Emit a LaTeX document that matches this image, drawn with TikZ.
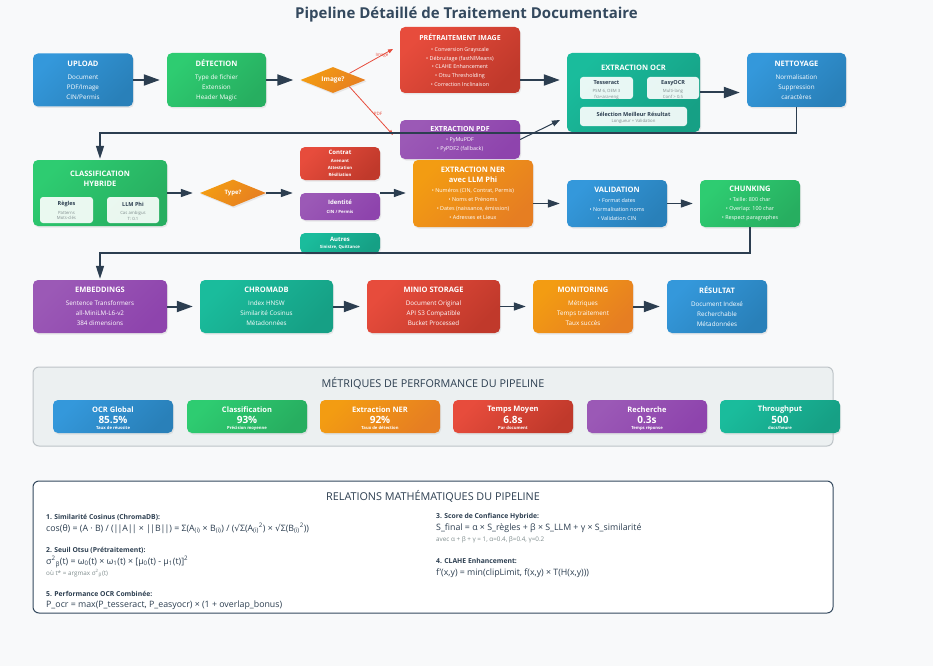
\documentclass[tikz,border=0pt]{standalone}
\usepackage{fontspec}
\setmainfont{Open Sans}
\newfontfamily\symfont{DejaVu Sans}
\usetikzlibrary{arrows.meta,shapes.geometric,shadows}
\definecolor{bg}{HTML}{F8F9FA}
\definecolor{blueA}{HTML}{3498DB}\definecolor{blueB}{HTML}{2980B9}
\definecolor{greenA}{HTML}{2ECC71}\definecolor{greenB}{HTML}{27AE60}
\definecolor{orangeA}{HTML}{F39C12}\definecolor{orangeB}{HTML}{E67E22}
\definecolor{redA}{HTML}{E74C3C}\definecolor{redB}{HTML}{C0392B}
\definecolor{purpleA}{HTML}{9B59B6}\definecolor{purpleB}{HTML}{8E44AD}
\definecolor{tealA}{HTML}{1ABC9C}\definecolor{tealB}{HTML}{16A085}
\definecolor{dark}{HTML}{2C3E50}
\definecolor{darkB}{HTML}{34495E}
\definecolor{grayT}{HTML}{7F8C8D}
\definecolor{panel}{HTML}{ECF0F1}
\definecolor{panelB}{HTML}{BDC3C7}
\newcommand{\tb}[2]{{\fontsize{#1}{#1}\selectfont\bfseries #2}}
\newcommand{\sq}{{\symfont √}}
\newcommand{\bb}{|\kern-1pt|}
\tikzset{
  box/.style={rectangle, rounded corners=5pt, inner sep=0pt, text=white, align=center,
    font=\fontsize{6.3}{10}\selectfont,
    drop shadow={opacity=0.15, shadow xshift=1pt, shadow yshift=-1.5pt}},
  bx/.style={box, left color=#1A, right color=#1B, shading angle=45},
  dia/.style={diamond, aspect=2.5, inner sep=0pt, left color=orangeA, right color=orangeB,
    shading angle=45, text=white, font=\fontsize{6.5}{8}\selectfont\bfseries,
    drop shadow={opacity=0.15, shadow xshift=1pt, shadow yshift=-1.5pt}},
  inbox/.style={rectangle, rounded corners=3pt, fill=white, fill opacity=0.9, inner sep=0pt},
  inT/.style={text=dark, font=\fontsize{5.5}{6}\selectfont\bfseries, inner sep=0pt},
  inD/.style={text=grayT, font=\fontsize{4.3}{5.8}\selectfont, align=center, inner sep=0pt},
  ttlw/.style={text=white, font=\fontsize{7.5}{10}\selectfont\bfseries, align=center, inner sep=0pt},
  bigarr/.style={draw=dark, line width=2pt, -{Triangle[length=16pt,width=11pt]}, shorten >=7pt},
  smallarr/.style={draw=dark, line width=1.5pt, -{Triangle[length=12pt,width=8pt]}, shorten >=7pt},
  conn/.style={draw=dark, line width=1.5pt, -{Triangle[length=13pt,width=8pt]}, shorten >=1pt},
  thinarr/.style={draw=dark, line width=1pt, -{Triangle[length=8pt,width=6pt]}},
  redarr/.style={draw=redA, line width=0.8pt, -{Triangle[length=5pt,width=4pt]}},
  redlbl/.style={text=redA, font=\fontsize{4.5}{5}\selectfont, inner sep=0pt},
  smallbx/.style={bx=#1, font=\fontsize{4.3}{7}\selectfont\bfseries},
  panelttl/.style={text=dark, font=\fontsize{10.8}{12}\selectfont, inner sep=0pt},
  mT/.style={text=white, font=\fontsize{7.5}{8}\selectfont\bfseries, inner sep=0pt},
  mV/.style={text=white, font=\fontsize{10}{11}\selectfont\bfseries, inner sep=0pt},
  mS/.style={text=white, font=\fontsize{4.2}{5}\selectfont\bfseries, inner sep=0pt},
  mh/.style={text=dark, font=\fontsize{6.8}{8}\selectfont\bfseries, anchor=west, inner sep=0pt},
  mf/.style={text=dark, font=\fontsize{8.8}{10}\selectfont, anchor=west, inner sep=0pt},
  mn/.style={text=grayT, font=\fontsize{6.3}{7}\selectfont, anchor=west, inner sep=0pt},
}
\newcommand\metric[6]{%
  \node[bx=#2, minimum width=120pt, minimum height=33pt] (#1) at (#3,416.5) {};
  \node[mT] (#1-t) at (#3,410) {#4};
  \node[mV] (#1-v) at (#3,419.5) {#5};
  \node[mS] (#1-s) at (#3,428) {#6};
}
\begin{document}
\begin{tikzpicture}[x=1pt,y=-1pt]
\useasboundingbox (0,0) rectangle (933,666);
\fill[bg] (0,0) rectangle (933,666);
\node[font=\fontsize{15}{17}\selectfont\bfseries, text=darkB] (title) at (466.5,15) {Pipeline Détaillé de Traitement Documentaire};

% ---------- Row 1
\node[bx=blue, minimum width=100pt, minimum height=53pt] (upload) at (83,80)
  {\tb{7.5}{UPLOAD}\\[3pt]Document\\PDF/Image\\CIN/Permis};
\node[bx=green, minimum width=99pt, minimum height=54pt] (detect) at (216.5,80)
  {\tb{7.5}{DÉTECTION}\\[3pt]Type de fichier\\Extension\\Header Magic};
\node[dia, minimum width=65pt, minimum height=26pt] (img) at (333,80) {Image?};
\node[bx=red, minimum width=120pt, minimum height=66pt, font=\fontsize{5.4}{8.7}\selectfont] (pre) at (460,60)
  {\tb{7}{PRÉTRAITEMENT IMAGE}\\[2.3pt]• Conversion Grayscale\\• Débruitage (fastNlMeans)\\• CLAHE Enhancement\\• Otsu Thresholding\\• Correction Inclinaison};
\node[bx=purple, minimum width=120pt, minimum height=39pt, font=\fontsize{5.4}{9}\selectfont] (pdf) at (460,139.5)
  {\tb{7}{EXTRACTION PDF}\\[1pt]• PyMuPDF\\• PyPDF2 (fallback)};
\node[bx=teal, minimum width=133pt, minimum height=79pt] (ocr) at (633.5,92.5) {};
\node[ttlw] (ocrT) at (633.5,68) {EXTRACTION OCR};
\node[inbox, minimum width=53pt, minimum height=22pt] (tess) at (606.5,88) {};
\node[inT] (tessT) at (606.5,83) {Tesseract};
\node[inD] (tessD) at (606.5,94.2) {PSM 6, OEM 3\\fra+ara+eng};
\node[inbox, minimum width=52pt, minimum height=22pt] (easy) at (673,88) {};
\node[inT] (easyT) at (673,83) {EasyOCR};
\node[inD] (easyD) at (673,94.2) {Multi-lang\\Conf > 0.5};
\node[inbox, minimum width=107pt, minimum height=19pt] (sel) at (633.5,116.5) {};
\node[inT] (selT) at (633.5,114.5) {Sélection Meilleur Résultat};
\node[inD] (selD) at (633.5,121.3) {Longueur + Validation};
\node[bx=blue, minimum width=99pt, minimum height=54pt] (net) at (796.5,80)
  {\tb{7.5}{NETTOYAGE}\\[3pt]Normalisation\\Suppression\\caractères};

% ---------- Row 2
\node[bx=green, minimum width=134pt, minimum height=66pt] (cls) at (100,193) {};
\node[ttlw] (clsT) at (100,179) {CLASSIFICATION\\HYBRIDE};
\node[inbox, minimum width=53pt, minimum height=26pt] (regl) at (66.5,210) {};
\node[inT] (reglT) at (66.5,204.5) {Règles};
\node[inD] (reglD) at (66.5,215.5) {Patterns\\Mots-clés};
\node[inbox, minimum width=52pt, minimum height=26pt] (llm) at (133,210) {};
\node[inT] (llmT) at (133,204.5) {LLM Phi};
\node[inD] (llmD) at (133,215.5) {Cas ambigus\\T: 0.1};
\node[dia, minimum width=66pt, minimum height=27pt, font=\fontsize{6}{7}\selectfont\bfseries] (type) at (233,193) {Type?};
\node[smallbx=red, minimum width=80pt, minimum height=33pt] (contrat) at (340,163.5)
  {\tb{6}{Contrat}\\[1pt]Avenant\\Attestation\\Résiliation};
\node[smallbx=purple, minimum width=80pt, minimum height=27pt, font=\fontsize{4.3}{9}\selectfont\bfseries] (ident) at (340,206.5)
  {\tb{6}{Identité}\\CIN / Permis};
\node[smallbx=teal, minimum width=80pt, minimum height=20pt] (autres) at (340,243)
  {\tb{6}{Autres}\\Sinistre, Quittance};
\node[bx=orange, minimum width=120pt, minimum height=67pt, font=\fontsize{5.4}{9}\selectfont] (ner) at (473,193.5)
  {\tb{7.5}{EXTRACTION NER}\\[1pt]\tb{7.5}{avec LLM Phi}\\[1pt]• Numéros (CIN, Contrat, Permis)\\• Noms et Prénoms\\• Dates (naissance, émission)\\• Adresses et Lieux};
\node[bx=blue, minimum width=100pt, minimum height=47pt, font=\fontsize{5.4}{9}\selectfont] (val) at (617,203.5)
  {\tb{7.5}{VALIDATION}\\[1pt]• Format dates\\• Normalisation noms\\• Validation CIN};
\node[bx=green, minimum width=100pt, minimum height=47pt, font=\fontsize{5.4}{9}\selectfont] (chk) at (750,203.5)
  {\tb{7.5}{CHUNKING}\\[1pt]• Taille: 800 char\\• Overlap: 100 char\\• Respect paragraphes};

% ---------- Row 3
\node[bx=purple, minimum width=134pt, minimum height=53pt] (emb) at (100,306.5)
  {\tb{7.5}{EMBEDDINGS}\\[3pt]Sentence Transformers\\all-MiniLM-L6-v2\\384 dimensions};
\node[bx=teal, minimum width=133pt, minimum height=53pt] (chroma) at (266.5,306.5)
  {\tb{7.5}{CHROMADB}\\[3pt]Index HNSW\\Similarité Cosinus\\Métadonnées};
\node[bx=red, minimum width=133pt, minimum height=53pt] (minio) at (433.5,306.5)
  {\tb{7.5}{MINIO STORAGE}\\[3pt]Document Original\\API S3 Compatible\\Bucket Processed};
\node[bx=orange, minimum width=100pt, minimum height=53pt] (mon) at (583,306.5)
  {\tb{7.5}{MONITORING}\\[3pt]Métriques\\Temps traitement\\Taux succès};
\node[bx=blue, minimum width=100pt, minimum height=53pt] (res) at (717,306.5)
  {\tb{7.5}{RÉSULTAT}\\[3pt]Document Indexé\\Recherchable\\Métadonnées};

% ---------- Connectors
\coordinate (y80) at (0,80);
\coordinate (r1) at (0,133);
\coordinate (r2) at (0,253);
\coordinate (preIn) at (393,49);
\coordinate (pdfIn) at (393,135);
\coordinate (ocrIn) at (560,120);
\draw[bigarr] (upload.east) -- (detect.west);
\draw[bigarr] (detect.east) -- (img.west);
\draw[redarr] (img.north east) -- (preIn);
\draw[redarr] (img.south east) -- (pdfIn);
\node[redlbl] (lblImg) at (382,55) {Image};
\node[redlbl] (lblPdf) at (378,114) {PDF};
\draw[bigarr] (pre.east |- y80) -- (ocr.west |- y80);
\draw[thinarr] (pdf.east) -- (ocrIn);
\draw[bigarr] (ocr.east) -- (net.west |- ocr.east);
\draw[conn] (net.south) -- (net.south |- r1) -- (cls.north |- r1) -- (cls.north);
\draw[smallarr] (cls.east) -- (type.west);
\draw[smallarr] (type.east) -- (ident.west |- type.east);
\draw[smallarr] (ident.east |- type.east) -- (ner.west |- type.east);
\draw[smallarr] (ner.east |- val.east) -- (val.west);
\draw[smallarr] (val.east) -- (chk.west);
\draw[conn] (chk.south) -- (chk.south |- r2) -- (emb.north |- r2) -- (emb.north);
\draw[bigarr] (emb.east) -- (chroma.west);
\draw[bigarr] (chroma.east) -- (minio.west);
\draw[smallarr] (minio.east) -- (mon.west);
\draw[bigarr] (mon.east) -- (res.west);

% ---------- Metrics panel
\node[rectangle, rounded corners=6pt, fill=panel, draw=panelB, line width=1pt, minimum width=800pt, minimum height=79pt] (metP) at (433,406.5) {};
\node[panelttl] (metT) at (433,383) {MÉTRIQUES DE PERFORMANCE DU PIPELINE};
\metric{m1}{blue}{113}{OCR Global}{85.5\%}{Taux de réussite}
\metric{m2}{green}{247}{Classification}{93\%}{Précision moyenne}
\metric{m3}{orange}{380}{Extraction NER}{92\%}{Taux de détection}
\metric{m4}{red}{513}{Temps Moyen}{6.8s}{Par document}
\metric{m5}{purple}{647}{Recherche}{0.3s}{Temps réponse}
\metric{m6}{teal}{780}{Throughput}{500}{docs/heure}

% ---------- Math panel
\node[rectangle, rounded corners=6pt, fill=white, draw=darkB, line width=1pt, minimum width=800pt, minimum height=132pt] (mathP) at (433,547) {};
\node[panelttl] (mathT) at (433,496) {RELATIONS MATHÉMATIQUES DU PIPELINE};
\node[mh] (h1) at (46,517) {1. Similarité Cosinus (ChromaDB):};
\node[mf] (f1) at (46,528.5) {cos(θ) = (A · B) / (\bb A\bb{} × \bb B\bb) = Σ(A\textsubscript{(i)} × B\textsubscript{(i)}) / (\sq Σ(A\textsubscript{(i)}\textsuperscript{2}) × \sq Σ(B\textsubscript{(i)}\textsuperscript{2}))};
\node[mh] (h2) at (46,550) {2. Seuil Otsu (Prétraitement):};
\node[mf] (f2) at (46,562) {σ\textsuperscript{2}\textsubscript{β}(t) = ω\textsubscript{0}(t) × ω\textsubscript{1}(t) × [μ\textsubscript{0}(t) - μ\textsubscript{1}(t)]\textsuperscript{2}};
\node[mn] (n2) at (46,573.5) {où t* = argmax σ\textsuperscript{2}\textsubscript{β}(t)};
\node[mh] (h5) at (46,594) {5. Performance OCR Combinée:};
\node[mf] (f5) at (46,605.5) {P\_ocr = max(P\_tesseract, P\_easyocr) × (1 + overlap\_bonus)};
\node[mh] (h3) at (436,517) {3. Score de Confiance Hybride:};
\node[mf] (f3) at (436,528.5) {S\_final = α × S\_règles + β × S\_LLM + γ × S\_similarité};
\node[mn] (n3) at (436,540) {avec α + β + γ = 1, α=0.4, β=0.4, γ=0.2};
\node[mh] (h4) at (436,561) {4. CLAHE Enhancement:};
\node[mf] (f4) at (436,573) {f'(x,y) = min(clipLimit, f(x,y) × T(H(x,y)))};
\end{tikzpicture}
\end{document}
